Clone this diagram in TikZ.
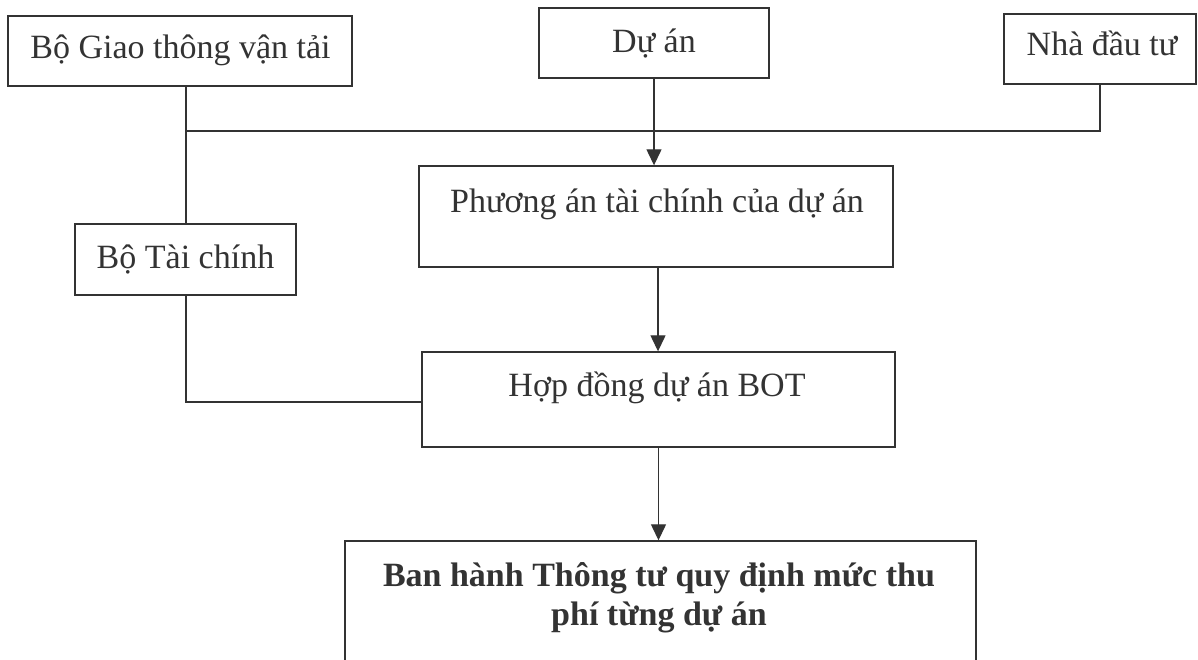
\documentclass[tikz,border=0pt]{standalone}
\usepackage{fontspec}
\setmainfont{Liberation Serif}
\usetikzlibrary{arrows.meta,calc}
\definecolor{ink}{HTML}{333333}
\begin{document}
\begin{tikzpicture}[x=1pt,y=-1pt,
  box/.style={draw=ink,line width=1.4pt,inner sep=0pt,minimum width=#1},
  lbl/.style={anchor=base,inner sep=0pt,text=ink,font=\fontsize{34}{39}\selectfont},
  bus/.style={draw=ink,line width=2pt},
  arr/.style={draw=ink,line width=1.3pt,-{Triangle[length=16pt,width=15pt]}}]
\clip (0,0) rectangle (1198,660);
\fill[white] (0,0) rectangle (1198,660);
% boxes
\node[box=344pt,minimum height=70pt] (gtvt) at (180,51) {};
\node[box=230pt,minimum height=70pt] (duan) at (654,43) {};
\node[box=192pt,minimum height=70pt] (ndt) at (1100,49) {};
\node[box=474pt,minimum height=101pt] (pa) at (656,216.5) {};
\node[box=221pt,minimum height=71pt] (btc) at (185.5,259.5) {};
\node[box=473pt,minimum height=95pt] (hd) at (658.5,399.5) {};
\node[box=631pt,minimum height=179pt] (bh) at (660.5,630.5) {};
% texts
\node[lbl] (gtvt-t) at (180.5,59) {Bộ Giao thông vận tải};
\node[lbl] (duan-t) at (654,53) {Dự án};
\node[lbl] (ndt-t) at (1102,56) {Nhà đầu tư};
\node[lbl] (btc-t) at (185.5,269) {Bộ Tài chính};
\node[lbl] (pa-t) at (657,213) {Phương án tài chính của dự án};
\node[lbl] (hd-t) at (657,396) {Hợp đồng dự án BOT};
\node[lbl,font=\bfseries\fontsize{34}{39}\selectfont] (bh-t1) at (659,586) {Ban hành Thông tư quy định mức thu};
\node[lbl,font=\bfseries\fontsize{34}{39}\selectfont] (bh-t2) at (659,625) {phí từng dự án};
% connectors
\coordinate (j1) at ($(btc.north)+(0,-92)$);
\coordinate (pas) at ($(pa.south)+(2,0)$);
\draw[bus] (gtvt.south -| btc.north) -- (btc.north);
\draw[bus] (j1) -- (j1 -| ndt.south) -- (ndt.south);
\draw[bus] (btc.south) |- ($(hd.west)+(0,2.5)$);
\draw[arr] (duan.south) -- (duan.south |- pa.north);
\draw[arr] (pas) -- (pas |- hd.north);
\draw[arr] (hd.south) -- (hd.south |- bh.north);
\end{tikzpicture}
\end{document}
